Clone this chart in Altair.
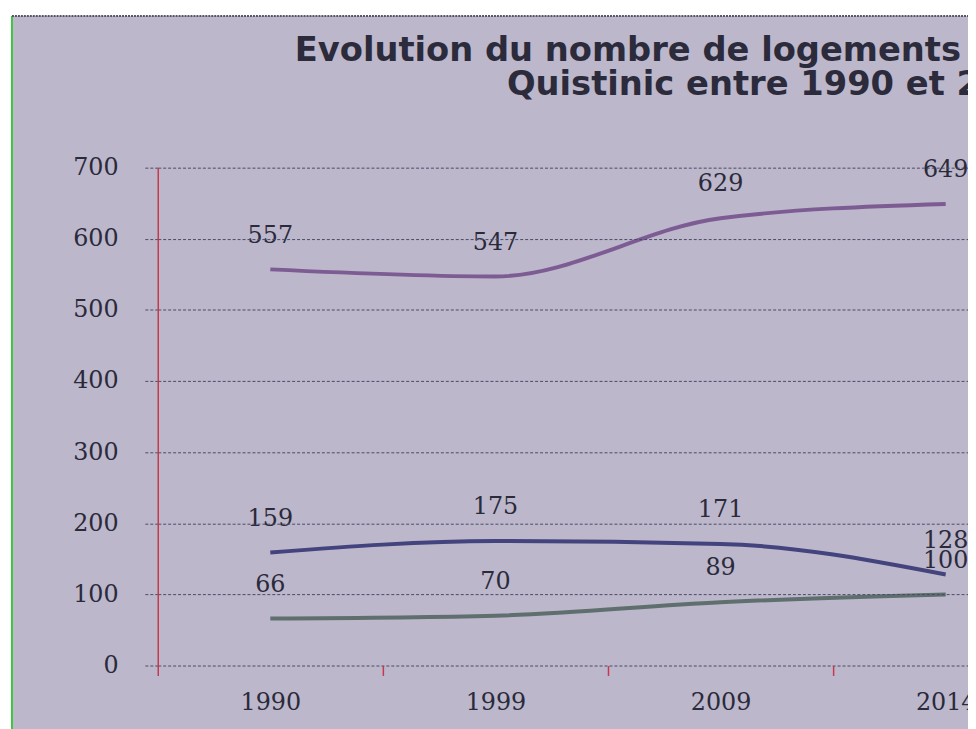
import altair as alt
import pandas as pd

years = ["1990", "1999", "2009", "2014"]
series_names = ["Résidences principales", "Résidences secondaires", "Logements vacants"]
principales = [557, 547, 629, 649]
secondaires = [159, 175, 171, 128]
vacants = [66, 70, 89, 100]
line_colors = ["#7d5c93", "#43437e", "#5e6f6e"]
title_lines = ["Evolution du nombre de logements par catégorie à", "Quistinic entre 1990 et 2014"]

rows = []
for name, vals in zip(series_names, [principales, secondaires, vacants]):
    for yr, v in zip(years, vals):
        rows.append({"annee": yr, "serie": name, "valeur": v})
df = pd.DataFrame(rows)

BG = "#bcb7cb"
NUM_FONT = "DejaVu Serif"
W_PLOT = 817
H_PLOT = 502

x_enc = alt.X("annee:O", sort=years,
              scale=alt.Scale(type="band", paddingInner=0, paddingOuter=0, range=[0, 908]),
              axis=alt.Axis(title=None, labelAngle=0, tickBand="extent", domain=False,
                            ticks=True, tickSize=10, tickColor="#c8384a", tickWidth=1.5,
                            labelFont=NUM_FONT, labelFontSize=24, labelColor="#2a2a3a",
                            labelPadding=15, grid=False, zindex=1))
y_enc = alt.Y("valeur:Q", scale=alt.Scale(domain=[0, 700], nice=False),
              axis=alt.Axis(title=None, values=[0, 100, 200, 300, 400, 500, 600, 700],
                            domain=True, domainColor="#c8384a", domainWidth=1.5,
                            tickSize=14, tickColor="#4a4a66", tickDash=[3, 2],
                            grid=True, gridColor="#4a4a66", gridDash=[3, 2], gridWidth=1,
                            labelFont=NUM_FONT, labelFontSize=24, labelColor="#2a2a3a",
                            labelPadding=26, zindex=1))

frame_df = pd.DataFrame({"k": [0]})
frame = alt.Chart(frame_df).mark_rect(fill=BG).encode(
    x=alt.value(-147), x2=alt.value(900), y=alt.value(-153), y2=alt.value(600)
)
left_border = alt.Chart(frame_df).mark_rule(color="#3cc83c", strokeWidth=2).encode(
    x=alt.value(-147), y=alt.value(-153), y2=alt.value(600)
)
top_border = alt.Chart(frame_df).mark_rule(color="#555566", strokeWidth=2, strokeDash=[2, 1]).encode(
    x=alt.value(-147), x2=alt.value(900), y=alt.value(-153)
)
title_mark = alt.Chart(frame_df).mark_text(
    font="DejaVu Sans", fontSize=34, fontWeight="bold", color="#2b2b3b",
    align="center", baseline="top", lineHeight=35
).encode(x=alt.value(626), y=alt.value(-135), text=alt.value(title_lines))

color_enc = alt.Color("serie:N", scale=alt.Scale(domain=series_names, range=line_colors), legend=None)

lines = alt.Chart(df).mark_line(strokeWidth=4, interpolate="monotone").encode(
    x=x_enc, y=y_enc, color=color_enc
)
labels = alt.Chart(df).mark_text(font=NUM_FONT, fontSize=24, color="#2a2a3a",
                                 baseline="alphabetic", dy=-27).encode(
    x=alt.X("annee:O", sort=years), y="valeur:Q", text="valeur:Q"
)

chart = alt.layer(frame, left_border, top_border, title_mark, lines, labels).properties(
    width=W_PLOT, height=H_PLOT,
    autosize=alt.AutoSizeParams(type="none"),
    padding={"left": 151, "top": 158, "right": 0, "bottom": 61},
    background="white"
).configure_view(stroke=None)

chart.save("out.html", embed_options={"renderer": "svg", "actions": False})
